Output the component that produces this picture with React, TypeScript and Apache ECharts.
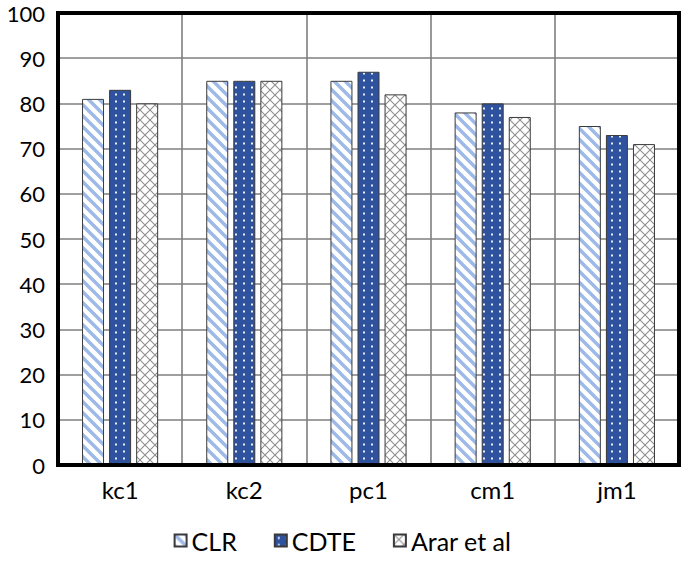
import React, { useEffect, useRef } from "react";
import * as echarts from "echarts";

const categories = ["kc1", "kc2", "pc1", "cm1", "jm1"];
const seriesNames = ["CLR", "CDTE", "Arar et al"];
const clrValues = [81, 85, 85, 78, 75];
const cdteValues = [83, 85, 87, 80, 73];
const ararValues = [80, 85, 82, 77, 71];

const svgUrl = (s: string) => "data:image/svg+xml;charset=utf-8," + encodeURIComponent(s);

const stripePattern = {
  image: svgUrl(
    "<svg xmlns='http://www.w3.org/2000/svg' width='11' height='11'><rect width='11' height='11' fill='#ffffff'/><path d='M-2,-2 L13,13 M-2,9 L2,13 M9,-2 L13,2' stroke='#9DB9E8' stroke-width='3.4'/></svg>"
  ),
  repeat: "repeat",
  imageWidth: 11,
  imageHeight: 11,
};
const dotPattern = {
  image: svgUrl(
    "<svg xmlns='http://www.w3.org/2000/svg' width='8' height='7'><rect width='8' height='7' fill='#2F529E'/><rect x='3' y='2.5' width='2' height='2' fill='#e8eefa'/></svg>"
  ),
  repeat: "repeat",
  imageWidth: 8,
  imageHeight: 7,
};
const crossPattern = {
  image: svgUrl(
    "<svg xmlns='http://www.w3.org/2000/svg' width='10' height='10'><rect width='10' height='10' fill='#ffffff'/><path d='M0,0 L10,10 M10,0 L0,10' stroke='#8f8f8f' stroke-width='1.1'/></svg>"
  ),
  repeat: "repeat",
  imageWidth: 10,
  imageHeight: 10,
};

const FONT = "Lato";
const GRID = { left: 58, right: 6, top: 13, bottom: 99 };
const W = 685;
const H = 564;

export default function App() {
  const ref = useRef<HTMLDivElement>(null);
  useEffect(() => {
    if (!ref.current) return;
    const chart = echarts.init(ref.current, null, { renderer: "svg" });
    const patterns = [stripePattern, dotPattern, crossPattern];
    const values = [clrValues, cdteValues, ararValues];
    chart.setOption({
      animation: false,
      backgroundColor: "#ffffff",
      grid: { ...GRID },
      graphic: [
        {
          type: "rect",
          z: 100,
          silent: true,
          shape: {
            x: GRID.left,
            y: GRID.top,
            width: W - GRID.left - GRID.right,
            height: H - GRID.top - GRID.bottom,
          },
          style: { fill: "none", stroke: "#000000", lineWidth: 4 },
        },
      ],
      legend: {
        data: seriesNames,
        left: "center",
        top: 523,
        itemWidth: 12,
        itemHeight: 12,
        itemGap: 37,
        icon: "rect",
        textStyle: { fontFamily: FONT, fontSize: 25, color: "#000" },
      },
      xAxis: {
        type: "category",
        data: categories,
        axisLine: { show: true, lineStyle: { color: "#000", width: 4 } },
        axisTick: { show: false },
        axisLabel: { fontFamily: FONT, fontSize: 24, color: "#000", margin: 12 },
        splitLine: { show: true, interval: 0, lineStyle: { color: "#7f7f7f", width: 1.6 } },
      },
      yAxis: {
        type: "value",
        min: 0,
        max: 100,
        interval: 10,
        axisLine: { show: false },
        axisTick: { show: false },
        axisLabel: { fontFamily: FONT, fontSize: 22, color: "#000", margin: 13 },
        splitLine: { show: true, lineStyle: { color: "#7f7f7f", width: 1.6 } },
      },
      series: seriesNames.map((name, i) => ({
        name,
        type: "bar",
        data: values[i],
        barWidth: 22,
        barGap: "23%",
        itemStyle: {
          color: patterns[i],
          borderColor: "#3a3a3a",
          borderWidth: 1,
        },
      })),
    });
    return () => chart.dispose();
  }, []);
  return (
    <div
      ref={ref}
      style={{ position: "fixed", left: 0, top: 0, width: W, height: H }}
    />
  );
}
